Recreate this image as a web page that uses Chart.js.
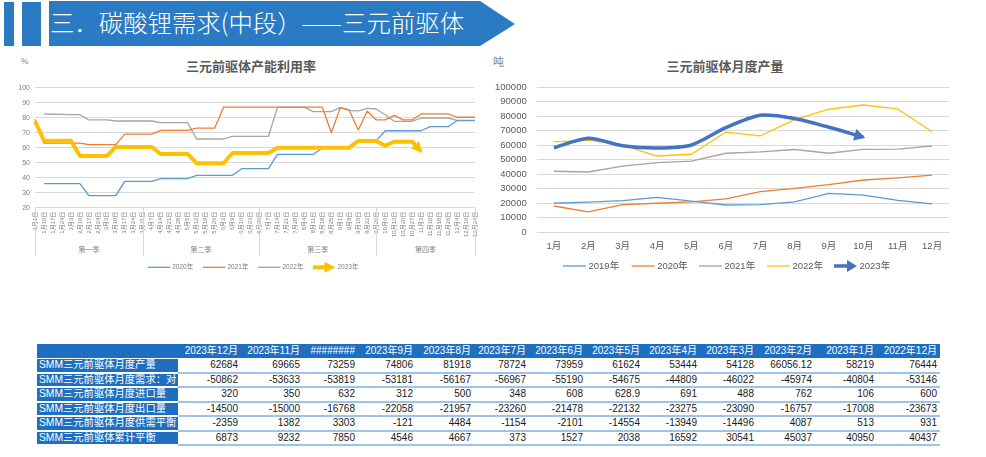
<!DOCTYPE html>
<html><head><meta charset="utf-8">
<script src="https://cdn.jsdelivr.net/npm/chart.js@4.4.1/dist/chart.umd.min.js"></script>
<style>
html,body{margin:0;padding:0;background:#fff;width:986px;height:457px;overflow:hidden;font-family:"Liberation Sans","Noto Sans CJK SC",sans-serif;}
.abs{position:absolute;}
#bar1{left:4px;top:2px;width:10px;height:44px;background:#2A7BC3;}
#bar2{left:22px;top:2px;width:19px;height:44px;background:#2A7BC3;}
#banner{left:49px;top:1px;width:466px;height:45px;background:#2A7BC3;clip-path:polygon(0 0,431px 0,466px 23px,431px 45px,0 45px);}
#bannerText{left:50px;top:4px;color:#fff;font-family:"Noto Sans CJK SC",sans-serif;font-weight:300;font-size:24.4px;line-height:36px;white-space:nowrap;}
.ttl{font-family:"Noto Sans CJK SC",sans-serif;font-weight:bold;font-size:13px;color:#595959;white-space:nowrap;transform:translateX(-50%);line-height:16px;}
.unit{font-family:"Noto Sans CJK SC",sans-serif;color:#7f7f7f;white-space:nowrap;}
#tbl{position:absolute;left:37px;top:344px;border-collapse:separate;border-spacing:0;table-layout:fixed;font-size:10px;}
#tbl td{padding:0 3px 0 0;text-align:right;white-space:nowrap;overflow:hidden;color:#1a1a1a;}
#tbl tr.hd td{background:#1F6FC0;color:#fff;height:14px;line-height:14px;border-bottom:1px solid #fff;}
#tbl tr.rw td{height:12.5px;line-height:12.5px;border-bottom:2px solid #9DC3E6;}
#tbl tr.rw td.lb{background:#1F6FC0;color:#fff;text-align:left;padding:0 0 0 2px;border-bottom:2px solid #fff;font-size:10.3px;}
</style></head>
<body>
<div id="bar1" class="abs"></div><div id="bar2" class="abs"></div>
<div id="banner" class="abs"></div>
<div id="bannerText" class="abs">三．碳酸锂需求(中段）——三元前驱体</div>
<div class="abs unit" style="left:21px;top:55px;font-size:8px;">%</div>
<div class="abs ttl" style="left:251px;top:58px;">三元前驱体产能利用率</div>
<div class="abs unit" style="left:493px;top:53px;font-size:11px;">吨</div>
<div class="abs ttl" style="left:725px;top:58px;">三元前驱体月度产量</div>
<canvas id="c1" class="abs" style="left:0;top:50px;" width="490" height="230"></canvas>
<canvas id="c2" class="abs" style="left:490px;top:50px;" width="496" height="230"></canvas>
<table id="tbl"></table>
<script>
// ---------- data ----------
const weekLabels = ['1月1日','1月10日','1月17日','1月24日','2月3日','2月10日','2月17日','2月24日','3月3日','3月10日','3月17日','3月24日','3月31日',
 '4月7日','4月14日','4月21日','4月28日','5月5日','5月12日','5月19日','5月26日','6月2日','6月9日','6月16日','6月23日','6月30日',
 '7月7日','7月14日','7月21日','7月28日','8月4日','8月11日','8月18日','8月25日','9月1日','9月8日','9月15日','9月22日','9月29日',
 '10月6日','10月13日','10月20日','10月27日','11月3日','11月10日','11月18日','11月26日','12月4日','12月16日','12月24日'];
const quarterNames = ['第一季','第二季','第三季','第四季'];
const quarterSizes = [13,13,13,11];
const util2020 = [null,36,36,36,36,36,28,28,28,28,37.6,37.6,37.6,37.6,39.4,39.4,39.4,39.4,41.6,41.6,41.6,41.6,41.6,46,46,46,46,55.6,55.6,55.6,55.6,55.6,59.6,59.6,59.6,59.6,64.7,64.7,64.7,71.3,71.3,71.3,71.3,71.3,74,74,74,78,78,78];
const util2021 = [79,63,63,63,63,63,62,62,62,62,69,69,69,69,71.6,71.6,71.6,71.6,73,73,73,87,87,87,87,87,87,87,87,87,87,87,87,70,86.7,85,71.8,84.5,78.5,78.5,81.5,78.5,78.5,82.5,82.5,82.5,82.5,80.3,80.3,80.3];
const util2022 = [null,82.5,82.3,82.2,82,82,78.5,78.5,78.5,77.8,77.8,77.8,77.8,77.8,76.7,76.7,76.7,76.7,65.8,65.8,65.8,65.8,67.6,67.6,67.6,67.6,67.6,86.9,86.9,86.9,86.9,84.1,84.1,84.1,86.9,84.9,84.5,86.2,85.8,82,77.6,77.6,77.6,79.8,79.8,79.8,79.8,78.2,78.2,78.2];
const util2023 = [77.8,64.7,64.7,64.7,64.7,54.5,54.5,54.5,54.5,60.5,60.5,60.5,60.5,60.5,55.8,55.8,55.8,55.8,49.6,49.6,49.6,49.6,56.5,56.5,56.5,56.5,56.5,60,60,60,60,60,60,60,60,60,64.5,64.5,64.5,61.3,64,64,64,57.5,null,null,null,null,null,null];
const utilTicks = [20,100,10];

const months = ['1月','2月','3月','4月','5月','6月','7月','8月','9月','10月','11月','12月'];
const prod2019 = [20000,20700,21800,24000,21500,18800,19000,21000,26800,25600,22000,19500];
const prod2020 = [18100,14000,19000,20000,21000,23000,28000,30300,32800,36000,37500,39400];
const prod2021 = [42000,41500,45600,48000,49000,54400,55300,57000,54400,57100,57200,59400];
const prod2022 = [62300,63500,60000,52500,53700,69000,66300,77500,84700,87600,84900,69200];
const prod2023 = [58200,64700,59600,58000,60100,72000,80500,78300,72300,65500];
const prodTicks = [0,100000,10000];

const tableHeaders = ['','2023年12月','2023年11月','########','2023年9月','2023年8月','2023年7月','2023年6月','2023年5月','2023年4月','2023年3月','2023年2月','2023年1月','2022年12月'];
const rowLabels = ['SMM三元前驱体月度产量','SMM三元前驱体月度需求：对','SMM三元前驱体月度进口量','SMM三元前驱体月度出口量','SMM三元前驱体月度供需平衡','SMM三元前驱体累计平衡'];
const rowProd = ['62684','69665','73259','74806','81918','78724','73959','61624','53444','54128','66056.12','58219','76444'];
const rowDemand = ['-50862','-53633','-53819','-53181','-56167','-56967','-55190','-54675','-44809','-46022','-45974','-40804','-53146'];
const rowImport = ['320','350','632','312','500','348','608','628.9','691','488','762','106','600'];
const rowExport = ['-14500','-15000','-16768','-22058','-21957','-23260','-21478','-22132','-23275','-23090','-16757','-17008','-23673'];
const rowBalance = ['-2359','1382','3303','-121','4484','-1154','-2101','-14554','-13949','-14496','4087','513','931'];
const rowCum = ['6873','9232','7850','4546','4667','373','1527','2038','16592','30541','45037','40950','40437'];

// ---------- table ----------
const colW = [141,63,62,55,58,58,55,57,57,57,57,58,62,63];
(function(){
  const t = document.getElementById('tbl');
  const cg = document.createElement('colgroup');
  colW.forEach(w=>{const c=document.createElement('col');c.style.width=w+'px';cg.appendChild(c);});
  t.appendChild(cg);
  const hr = document.createElement('tr'); hr.className='hd';
  tableHeaders.forEach(h=>{const td=document.createElement('td');td.textContent=h;hr.appendChild(td);});
  t.appendChild(hr);
  [rowProd,rowDemand,rowImport,rowExport,rowBalance,rowCum].forEach((r,i)=>{
    const tr=document.createElement('tr'); tr.className='rw';
    const l=document.createElement('td'); l.className='lb'; l.textContent=rowLabels[i]; tr.appendChild(l);
    r.forEach(v=>{const td=document.createElement('td');td.textContent=v;tr.appendChild(td);});
    t.appendChild(tr);
  });
})();

// ---------- charts ----------
const FONT = '"Liberation Sans","Noto Sans CJK SC",sans-serif';
Chart.defaults.font.family = FONT;

function triangle(ctx, tx, ty, dx, dy, len, w){
  const bx = tx-dx*len, by = ty-dy*len;
  ctx.beginPath();
  ctx.moveTo(tx,ty);
  ctx.lineTo(bx - dy*w/2, by + dx*w/2);
  ctx.lineTo(bx + dy*w/2, by - dx*w/2);
  ctx.closePath(); ctx.fill();
}
const arrowPlugin = {
  id:'arrowHead',
  afterDatasetsDraw(chart){
    const ctx = chart.ctx;
    chart.data.datasets.forEach((ds,di)=>{
      if(!ds.arrow) return;
      const meta = chart.getDatasetMeta(di);
      let k=-1;
      for(let i=ds.data.length-1;i>=0;i--){ if(ds.data[i]!==null && ds.data[i]!==undefined){k=i;break;} }
      if(k<1) return;
      const p=meta.data[k], q=meta.data[k-1];
      let dx=p.x-q.x, dy=p.y-q.y; const L=Math.hypot(dx,dy)||1; dx/=L; dy/=L;
      ctx.save(); ctx.fillStyle=ds.borderColor;
      triangle(ctx, p.x+dx*ds.arrow.ext, p.y+dy*ds.arrow.ext, dx, dy, ds.arrow.len, ds.arrow.width);
      ctx.restore();
    });
  }
};
const legendPlugin = {
  id:'customLegend',
  afterDraw(chart, args, o){
    const ctx=chart.ctx; ctx.save();
    ctx.font = o.fontSize+'px '+FONT; ctx.fillStyle=o.color; ctx.textBaseline='middle'; ctx.textAlign='left';
    chart.data.datasets.forEach((ds,i)=>{
      const x0=o.xs[i], y=o.y, x1=x0+o.lineLen;
      ctx.strokeStyle=ds.borderColor; ctx.lineWidth=ds.borderWidth;
      ctx.beginPath(); ctx.moveTo(x0,y); ctx.lineTo(ds.arrow ? x1-o.arrowLen*0.5 : x1, y); ctx.stroke();
      if(ds.arrow){ ctx.fillStyle=ds.borderColor; triangle(ctx,x1,y,1,0,o.arrowLen,o.arrowW); ctx.fillStyle=o.color; }
      ctx.fillText(ds.label, x1+o.gap, y);
    });
    ctx.restore();
  }
};
const quarterPlugin = {
  id:'quarterGroups',
  afterDraw(chart, args, o){
    const {ctx, chartArea} = chart; const xs = chart.scales.x;
    const bounds=[chartArea.left]; let idx=0;
    o.sizes.forEach((n,gi)=>{ idx+=n; bounds.push(gi===o.sizes.length-1 ? chartArea.right : xs.getPixelForValue(idx-1)); });
    ctx.save(); ctx.strokeStyle=o.lineColor; ctx.lineWidth=1;
    bounds.forEach(b=>{ const xx=Math.round(b)+0.5; ctx.beginPath(); ctx.moveTo(xx, chartArea.bottom); ctx.lineTo(xx, chartArea.bottom+o.lineLen); ctx.stroke(); });
    ctx.font=o.fontSize+'px '+FONT; ctx.fillStyle=o.color; ctx.textAlign='center'; ctx.textBaseline='middle';
    o.names.forEach((nm,i)=>ctx.fillText(nm,(bounds[i]+bounds[i+1])/2, chartArea.bottom+o.labelOffset));
    ctx.restore();
  }
};

function lineDs(label, data, color, width, extra){
  return Object.assign({label, data, borderColor:color, backgroundColor:color, borderWidth:width, pointRadius:0, pointHoverRadius:0, tension:0, fill:false, spanGaps:false, borderCapStyle:'butt', borderJoinStyle:'round'}, extra||{});
}
const plainTick = v => String(v);

new Chart(document.getElementById('c1'), {
  type:'line',
  data:{labels:weekLabels, datasets:[
    lineDs('2020年', util2020, '#5B9BD5', 1.3),
    lineDs('2021年', util2021, '#ED7D31', 1.3),
    lineDs('2022年', util2022, '#A5A5A5', 1.3),
    lineDs('2023年', util2023, '#FFC000', 4, {order:-1, arrow:{len:11,width:11,ext:2}})
  ]},
  options:{
    responsive:false, animation:false, events:[],
    layout:{padding:{left:0,right:15,top:37.7,bottom:0}},
    plugins:{
      legend:{display:false}, tooltip:{enabled:false}, title:{display:false},
      customLegend:{xs:[147.7,203,258,313], y:217.3, lineLen:22.5, gap:2, fontSize:6.5, color:'#7f7f7f', arrowLen:11, arrowW:11},
      quarterGroups:{sizes:quarterSizes, names:quarterNames, lineLen:48, labelOffset:42.5, fontSize:7, color:'#7f7f7f', lineColor:'#d9d9d9'}
    },
    scales:{
      x:{type:'category', offset:false, grid:{display:false, drawTicks:false}, border:{display:false},
         ticks:{autoSkip:false, minRotation:90, maxRotation:90, font:{size:6}, color:'#7f7f7f', padding:4},
         afterFit:s=>{s.height=72.3;}},
      y:{min:utilTicks[0], max:utilTicks[1], ticks:{stepSize:utilTicks[2], font:{size:7}, color:'#7f7f7f', padding:5, callback:plainTick},
         grid:{color:'#d9d9d9', drawTicks:false, lineWidth:1}, border:{display:false},
         afterFit:s=>{s.width=35;}}
    }
  },
  plugins:[arrowPlugin, legendPlugin, quarterPlugin]
});

new Chart(document.getElementById('c2'), {
  type:'line',
  data:{labels:months, datasets:[
    lineDs('2019年', prod2019, '#5B9BD5', 1.3),
    lineDs('2020年', prod2020, '#ED7D31', 1.3),
    lineDs('2021年', prod2021, '#A5A5A5', 1.3),
    lineDs('2022年', prod2022, '#FFC000', 1.3),
    lineDs('2023年', prod2023, '#4472C4', 3.5, {order:-1, tension:0.25, arrow:{len:11,width:12,ext:2}})
  ]},
  options:{
    responsive:false, animation:false, events:[],
    layout:{padding:{left:0,right:36.7,top:37,bottom:0}},
    plugins:{
      legend:{display:false}, tooltip:{enabled:false}, title:{display:false},
      customLegend:{xs:[73,141.7,209,277,344], y:216, lineLen:23, gap:2.5, fontSize:9.5, color:'#595959', arrowLen:10, arrowW:12}
    },
    scales:{
      x:{type:'category', offset:true, grid:{display:false, drawTicks:false}, border:{display:false},
         ticks:{font:{size:9.5}, color:'#595959', padding:8, maxRotation:0},
         afterFit:s=>{s.height=47.7;}},
      y:{min:prodTicks[0], max:prodTicks[1], ticks:{stepSize:prodTicks[2], font:{size:9.5}, color:'#595959', padding:10, callback:plainTick},
         grid:{color:'#d9d9d9', drawTicks:false, lineWidth:1}, border:{display:false},
         afterFit:s=>{s.width=46.7;}}
    }
  },
  plugins:[arrowPlugin, legendPlugin]
});
</script>
</body></html>
